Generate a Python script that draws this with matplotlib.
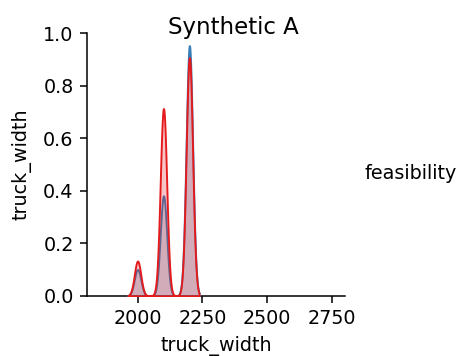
import numpy as np
import pandas as pd
import matplotlib
matplotlib.use("Agg")
import matplotlib.pyplot as plt
import seaborn as sns

# truck widths observed and how often each occurs per feasibility class
widths = [2000, 2100, 2200]
counts_feasible = [10, 38, 95]
counts_infeasible = [13, 70, 89]
classes = ["feasible", "infeasible"]
palette = {"feasible": "#377eb8", "infeasible": "#e41a1c"}

df = pd.DataFrame({
    "truck_width": np.concatenate([np.repeat(widths, counts_feasible),
                                   np.repeat(widths, counts_infeasible)]),
    "feasibility": np.repeat(classes, [sum(counts_feasible), sum(counts_infeasible)]),
})

DPI = 137.5
g = sns.pairplot(df, vars=["truck_width"], hue="feasibility", hue_order=classes[::-1],
                 palette=palette, diag_kws=dict(bw_adjust=0.55))
fig = g.figure
fig.set_size_inches(458 / DPI, 356 / DPI)
fig.set_dpi(DPI)
ax = g.axes[0, 0]
for a in fig.axes:
    a.set_position([0.190, 0.169, 0.563, 0.738])
ax.set_xlim(1805, 2800)
ax.set_xticks([2000, 2250, 2500, 2750])
ax.yaxis.labelpad = 6
fig.suptitle("Synthetic A", x=0.51, y=0.955)
if g._legend is not None:
    g._legend.set_bbox_to_anchor((1.035, 0.5), transform=fig.transFigure)
    g._legend._loc = 7
fig.savefig("out.png", dpi=DPI)
